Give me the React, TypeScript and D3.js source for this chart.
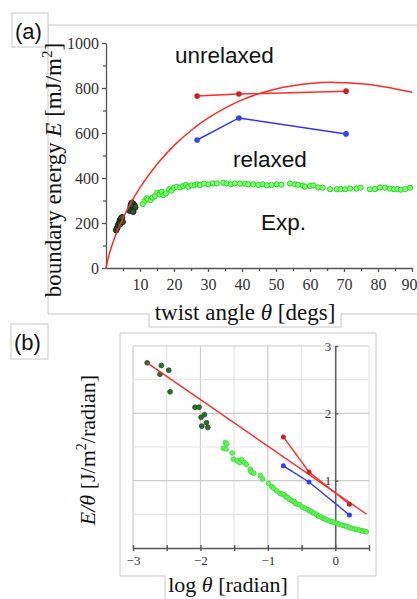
import React, { useRef, useEffect } from 'react'
import { select, scaleLinear, line, curveCatmullRom, axisLeft, axisBottom, range } from 'd3'

// panel (a): twist angle (deg) vs boundary energy (mJ/m2)
const fitTheta = [0, 1, 2, 3, 5, 7, 10, 15, 20, 25, 30, 40, 50, 60, 67, 75, 80, 90]
const fitEnergy = [0, 64, 111, 152, 221, 281, 357, 461, 544, 611, 666, 747, 796, 820, 825, 819, 810, 781]

const simTheta = [26.8, 39.1, 70.6]
const unrelaxedE = [764, 773, 786]
const relaxedE = [569, 667, 596]

const expTheta = [10.8, 11.5, 12.0, 12.4, 13.1, 13.7, 14.4, 15.1, 15.7, 16.4, 16.9, 17.6, 18.6, 19.3, 20.0, 20.8, 21.8, 22.7, 23.5, 24.2, 25.2, 26.2, 26.9, 27.6, 28.8, 30.1, 31.4, 32.6, 34.5, 35.5, 36.7, 37.9, 39.4, 40.9, 41.8, 43.3, 44.8, 46.1, 47.3, 48.7, 50.2, 51.6, 54.1, 55.6, 56.5, 57.9, 58.5, 60.0, 61.0, 62.4, 63.7, 65.9, 67.9, 69.0, 70.3, 71.8, 73.7, 74.9, 77.6, 79.1, 80.6, 82.0, 83.5, 84.7, 85.7, 86.7, 88.0, 89.4]
const expEnergy = [284, 299, 310, 305, 302, 313, 320, 335, 327, 339, 324, 332, 350, 344, 357, 361, 358, 364, 369, 361, 367, 370, 372, 369, 375, 372, 376, 376, 379, 376, 372, 376, 375, 375, 372, 372, 369, 372, 367, 369, 372, 370, 376, 372, 370, 366, 361, 364, 367, 358, 357, 350, 350, 351, 350, 354, 353, 357, 350, 351, 358, 357, 353, 350, 351, 348, 351, 357]

const lowTheta = [3.0, 3.3, 3.6, 3.9, 4.1, 4.4, 4.7, 4.2, 4.9, 7.0, 7.2, 7.5, 7.8, 8.0, 8.2, 8.4, 7.6, 8.6, 7.3, 8.0]
const lowEnergy = [168, 178, 192, 200, 212, 220, 225, 195, 205, 255, 268, 260, 275, 285, 265, 278, 290, 270, 280, 250]

// panel (b): log theta (radian) vs E/theta
const fitLogX = [-2.79, 0.46]
const fitLogY = [2.75, 0.505]

const simLogX = [-0.77, -0.39, 0.21]
const unrelaxedLogY = [1.65, 1.13, 0.65]
const relaxedLogY = [1.22, 0.98, 0.49]

const lowLogX = [-2.79, -2.58, -2.60, -2.47, -2.45, -2.08, -2.02, -1.94, -1.99, -1.91, -1.98, -1.89]
const lowLogY = [2.75, 2.71, 2.58, 2.64, 2.32, 2.09, 2.09, 1.98, 1.94, 1.86, 1.81, 1.79]

const expLogX = [-1.63, -1.61, -1.66, -1.62, -1.53, -1.51, -1.46, -1.42, -1.39, -1.35, -1.32, -1.26, -1.25, -1.21, -1.11, -1.08, -0.99, -0.94, -0.92, -0.87, -0.82, -0.79, -0.76, -0.73, -0.71, -0.68, -0.64, -0.61, -0.59, -0.56, -0.53, -0.49, -0.45, -0.41, -0.38, -0.35, -0.32, -0.28, -0.25, -0.21, -0.18, -0.15, -0.12, -0.08, -0.05, -0.01, 0.03, 0.06, 0.10, 0.14, 0.17, 0.21, 0.25, 0.29, 0.32, 0.36, 0.40, 0.43, 0.46]
const expLogY = [1.565, 1.545, 1.48, 1.47, 1.41, 1.32, 1.30, 1.27, 1.31, 1.27, 1.24, 1.17, 1.13, 1.11, 1.075, 1.025, 0.96, 0.91, 0.89, 0.85, 0.81, 0.80, 0.79, 0.76, 0.75, 0.72, 0.70, 0.69, 0.66, 0.65, 0.64, 0.61, 0.59, 0.57, 0.555, 0.54, 0.515, 0.50, 0.475, 0.46, 0.44, 0.43, 0.415, 0.40, 0.39, 0.38, 0.365, 0.355, 0.34, 0.33, 0.32, 0.305, 0.29, 0.28, 0.275, 0.265, 0.255, 0.25, 0.24]

const App = () => {
  const svgRef = useRef<SVGSVGElement>(null)

  useEffect(() => {
    if (!svgRef.current) return
    const svg = select(svgRef.current)
    svg.selectAll('*').remove()

    const serif = '"Liberation Serif", "Times New Roman", serif'
    const sans = '"Liberation Sans", Arial, sans-serif'
    const frameCol = '#c8c8c8'

    // ---------- panel (a) ----------
    const xa = scaleLinear().domain([0, 90]).range([106, 412])
    const ya = scaleLinear().domain([0, 1000]).range([268, 43])

    svg.append('path')
      .attr('d', 'M417,25H48V314H149V327H341V314H417')
      .attr('fill', 'none').attr('stroke', frameCol).attr('stroke-width', 1)
    svg.append('rect').attr('x', 12).attr('y', 13).attr('width', 36).attr('height', 34)
      .attr('fill', 'white').attr('stroke', frameCol)
    svg.append('text').attr('x', 15).attr('y', 39).attr('font-family', sans)
      .attr('font-size', 22).attr('fill', '#111').text('(a)')

    const gy = svg.append('g').attr('transform', 'translate(106,0)')
      .call(axisLeft(ya).tickValues(range(0, 1001, 200)).tickFormat(d => String(d))
        .tickSize(4).tickSizeOuter(0).tickPadding(3))
    gy.append('g').call(axisLeft(ya).tickValues(range(100, 1000, 200)).tickSize(3).tickFormat(() => ''))
      .call(g => g.select('.domain').remove())
    const gx = svg.append('g').attr('transform', 'translate(0,268)')
      .call(axisBottom(xa).tickValues(range(10, 91, 10)).tickFormat(d => String(d))
        .tickSize(4).tickSizeOuter(0).tickPadding(7))
    gx.append('g').call(axisBottom(xa).tickValues(range(5, 90, 10)).tickSize(3).tickFormat(() => ''))
      .call(g => g.select('.domain').remove())
    for (const g of [gy, gx]) {
      g.selectAll('path,line').attr('stroke', '#555').attr('stroke-width', 1.3)
      g.selectAll('text').attr('font-family', serif).attr('font-size', 16).attr('fill', '#333')
    }
    // last x label would run past the window edge
    gx.selectAll<SVGTextElement, number>('.tick text').filter(d => d === 90)
      .attr('text-anchor', 'end').attr('x', 5)

    // exp points
    const expA = expTheta.map((t, i) => [t, expEnergy[i]])
    svg.append('g').selectAll('circle').data(expA).join('circle')
      .attr('cx', d => xa(d[0])).attr('cy', d => ya(d[1])).attr('r', 2.6)
      .attr('fill', '#8cff7a').attr('stroke', '#22dd22').attr('stroke-width', 1)
    const lowA = lowTheta.map((t, i) => [t, lowEnergy[i]])
    svg.append('g').selectAll('circle').data(lowA).join('circle')
      .attr('cx', d => xa(d[0])).attr('cy', d => ya(d[1])).attr('r', 2.8)
      .attr('fill', '#2c5a2c').attr('stroke', '#0d250d').attr('stroke-width', 1)

    // fit curve
    const fitA = fitTheta.map((t, i) => [t, fitEnergy[i]])
    svg.append('path')
      .attr('d', line<number[]>().x(d => xa(d[0])).y(d => ya(d[1])).curve(curveCatmullRom)(fitA))
      .attr('fill', 'none').attr('stroke', '#ff2a2a').attr('stroke-width', 1.5)

    const simSeries = [
      { ys: unrelaxedE, col: '#ff2a2a', dot: '#cc1f1f' },
      { ys: relaxedE, col: '#3333ff', dot: '#3344ee' },
    ]
    for (const s of simSeries) {
      const pts = simTheta.map((t, i) => [t, s.ys[i]])
      svg.append('path')
        .attr('d', line<number[]>().x(d => xa(d[0])).y(d => ya(d[1]))(pts))
        .attr('fill', 'none').attr('stroke', s.col).attr('stroke-width', 1.5)
      svg.append('g').selectAll('circle').data(pts).join('circle')
        .attr('cx', d => xa(d[0])).attr('cy', d => ya(d[1])).attr('r', 2.8).attr('fill', s.dot)
    }

    const notes = [
      { t: 'unrelaxed', x: 175, y: 63 },
      { t: 'relaxed', x: 233, y: 167 },
      { t: 'Exp.', x: 261, y: 230 },
    ]
    svg.append('g').selectAll('text').data(notes).join('text')
      .attr('x', d => d.x).attr('y', d => d.y).attr('font-family', sans)
      .attr('font-size', 22.5).attr('fill', '#111').text(d => d.t)

    const yLabA = svg.append('text').attr('transform', 'translate(61,170) rotate(-90)')
      .attr('text-anchor', 'middle').attr('font-family', serif).attr('font-size', 23).attr('fill', '#111')
    yLabA.append('tspan').text('boundary energy ')
    yLabA.append('tspan').attr('font-style', 'italic').text('E')
    yLabA.append('tspan').text(' [mJ/m')
    yLabA.append('tspan').attr('font-size', 15).attr('dy', -9).text('2')
    yLabA.append('tspan').attr('dy', 9).text(']')

    const xLabA = svg.append('text').attr('x', 245).attr('y', 320)
      .attr('text-anchor', 'middle').attr('font-family', serif).attr('font-size', 23).attr('fill', '#111')
    xLabA.append('tspan').text('twist angle ')
    xLabA.append('tspan').attr('font-style', 'italic').text('θ')
    xLabA.append('tspan').text(' [degs]')

    // ---------- panel (b) ----------
    const xb = scaleLinear().domain([-3, 0.5]).range([133, 369])
    const yb = scaleLinear().domain([0, 3]).range([548, 346])

    svg.append('path')
      .attr('d', 'M165,599V576H120V333H376V576H298V599')
      .attr('fill', 'none').attr('stroke', frameCol).attr('stroke-width', 1)
    svg.append('rect').attr('x', 11).attr('y', 324).attr('width', 37).attr('height', 35)
      .attr('fill', 'white').attr('stroke', frameCol)
    svg.append('text').attr('x', 14).attr('y', 350).attr('font-family', sans)
      .attr('font-size', 22).attr('fill', '#111').text('(b)')

    const grid = svg.append('g')
    const gxVals = range(-3, 0.51, 0.5)
    const gyVals = range(0.5, 3.01, 0.5)
    grid.selectAll('line.v').data(gxVals).join('line')
      .attr('x1', d => xb(d)).attr('x2', d => xb(d)).attr('y1', yb(3)).attr('y2', yb(0))
      .attr('stroke', d => (Math.abs(d % 1) < 1e-6 ? '#cccccc' : '#e6e6e6')).attr('stroke-width', 1.2)
    grid.selectAll('line.h').data(gyVals).join('line')
      .attr('x1', xb(-3)).attr('x2', xb(0.5)).attr('y1', d => yb(d)).attr('y2', d => yb(d))
      .attr('stroke', d => (Math.abs(d % 1) < 1e-6 ? '#cccccc' : '#e6e6e6')).attr('stroke-width', 1.2)

    const bx = svg.append('g').attr('transform', `translate(0,${yb(0)})`)
      .call(axisBottom(xb).tickValues(gxVals).tickSize(3).tickSizeOuter(0).tickPadding(5)
        .tickFormat(d => (Number.isInteger(+d) ? (+d < 0 ? '−' + Math.abs(+d) : String(d)) : '')))
    bx.selectAll('.tick line').attr('y1', -3)
    const by = svg.append('g').attr('transform', `translate(${xb(0)},0)`)
      .call(axisLeft(yb).tickValues([1, 2, 3]).tickFormat(d => String(d))
        .tickSize(3).tickSizeOuter(0).tickPadding(1))
    by.selectAll('.tick line').attr('x2', 3)
    for (const g of [bx, by]) {
      g.selectAll('path,line').attr('stroke', '#555').attr('stroke-width', 1.4)
      g.selectAll('text').attr('font-family', serif).attr('font-size', 13).attr('fill', '#333')
    }

    const expB = expLogX.map((x, i) => [x, expLogY[i]])
    svg.append('g').selectAll('circle').data(expB).join('circle')
      .attr('cx', d => xb(d[0])).attr('cy', d => yb(d[1])).attr('r', 2.4)
      .attr('fill', '#6cf060').attr('stroke', '#33dd33').attr('stroke-width', 0.8)
    const lowB = lowLogX.map((x, i) => [x, lowLogY[i]])
    svg.append('g').selectAll('circle').data(lowB).join('circle')
      .attr('cx', d => xb(d[0])).attr('cy', d => yb(d[1])).attr('r', 2.4)
      .attr('fill', '#2e6e2e').attr('stroke', '#1d4d1d').attr('stroke-width', 0.8)

    const fitB = fitLogX.map((x, i) => [x, fitLogY[i]])
    svg.append('path')
      .attr('d', line<number[]>().x(d => xb(d[0])).y(d => yb(d[1]))(fitB))
      .attr('fill', 'none').attr('stroke', '#ff2a2a').attr('stroke-width', 1.4)

    const simB = [
      { ys: unrelaxedLogY, col: '#ff2a2a', dot: '#cc1f1f' },
      { ys: relaxedLogY, col: '#3333ff', dot: '#3344ee' },
    ]
    for (const s of simB) {
      const pts = simLogX.map((x, i) => [x, s.ys[i]])
      svg.append('path')
        .attr('d', line<number[]>().x(d => xb(d[0])).y(d => yb(d[1]))(pts))
        .attr('fill', 'none').attr('stroke', s.col).attr('stroke-width', 1.4)
      svg.append('g').selectAll('circle').data(pts).join('circle')
        .attr('cx', d => xb(d[0])).attr('cy', d => yb(d[1])).attr('r', 2.5).attr('fill', s.dot)
    }

    const yLabB = svg.append('text').attr('transform', 'translate(95,450) rotate(-90)')
      .attr('text-anchor', 'middle').attr('font-family', serif).attr('font-size', 22).attr('fill', '#111')
    yLabB.append('tspan').attr('font-style', 'italic').text('E/θ')
    yLabB.append('tspan').text(' [J/m')
    yLabB.append('tspan').attr('font-size', 14).attr('dy', -9).text('2')
    yLabB.append('tspan').attr('dy', 9).text('/radian]')

    const xLabB = svg.append('text').attr('x', 228).attr('y', 592)
      .attr('text-anchor', 'middle').attr('font-family', serif).attr('font-size', 22).attr('fill', '#111')
    xLabB.append('tspan').text('log ')
    xLabB.append('tspan').attr('font-style', 'italic').text('θ')
    xLabB.append('tspan').text(' [radian]')
  }, [])

  return (
    <svg ref={svgRef} width={417} height={599}
      style={{ position: 'absolute', left: 0, top: 0, background: 'white' }} />
  )
}

export default App
